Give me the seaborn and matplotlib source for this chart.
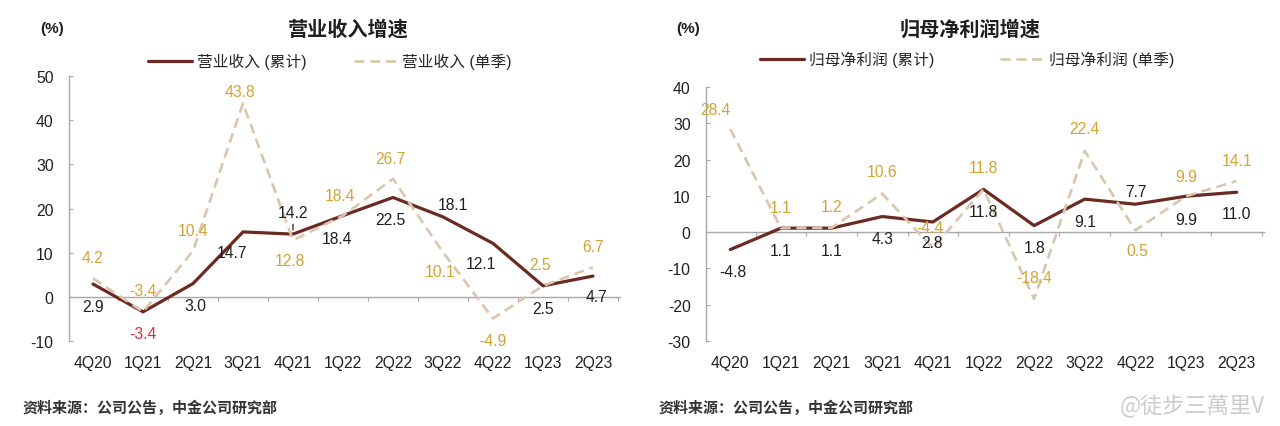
import matplotlib
matplotlib.use('Agg')
import matplotlib.pyplot as plt
import numpy as np
import pandas as pd
import seaborn as sns

# data
quarters = ['4Q20', '1Q21', '2Q21', '3Q21', '4Q21', '1Q22', '2Q22', '3Q22', '4Q22', '1Q23', '2Q23']

rev_cum = [2.9, -3.4, 3.0, 14.7, 14.2, 18.4, 22.5, 18.1, 12.1, 2.5, 4.7]
rev_q = [4.2, -3.4, 10.4, 43.8, 12.8, 18.4, 26.7, 10.1, -4.9, 2.5, 6.7]
np_cum = [-4.8, 1.1, 1.1, 4.3, 2.8, 11.8, 1.8, 9.1, 7.7, 9.9, 11.0]
np_q = [28.4, 1.1, 1.2, 10.6, -4.4, 11.8, -18.4, 22.4, 0.5, 9.9, 14.1]

# label offsets in pixels (dx, dy down positive)
rev_cum_off = [(0, 22), (0, 22), (2, 22), (-11, 21), (0, -22), (-6, 23), (-3, 22), (10, -12), (-12, 20), (0, 23), (4, 20)]
rev_q_off = [(-1, -21), (0, -21), (0, -20), (-3, -12), (-3, 20), (-3, -20), (-3, -20), (-3, 19), (0, 22), (-3, -21), (0, -21)]
np_cum_off = [(3, 22), (0, 22), (0, 22), (0, 22), (-1, 21), (0, 22), (0, 22), (0, 22), (1, -13), (0, 23), (0, 21)]
np_q_off = [(-15, -20), (0, -21), (0, -21), (0, -22), (-3, -21), (0, -22), (0, -21), (0, -22), (2, 20), (0, -20), (0, -20)]

BROWN = '#6B2A22'
BEIGE = '#D9C6AC'
GOLD = '#D4A232'
DARK = '#1F1F1F'
RED = '#E8283A'
GREY = '#A8A8A8'

sns.set_style('white')
plt.rcParams['font.family'] = ['Liberation Sans', 'Noto Sans CJK SC', 'DejaVu Sans']
plt.rcParams['axes.unicode_minus'] = False

fig = plt.figure(figsize=(12.8, 4.27), dpi=100)
ax1 = fig.add_axes([69/1280, 1-342/427, (620-69)/1280, (342-77)/427])
ax2 = fig.add_axes([706/1280, 1-342/427, (1264-706)/1280, (342-88)/427])

PX = 0.72  # points per pixel at 100 dpi
FS = 11.3


def draw_panel(ax, cum, q, name, ylim, yticks, cum_off, q_off, cum_colors, leader=None):
    df = pd.DataFrame({'quarter': quarters, 'cum': cum, 'q': q})
    sns.lineplot(data=df, x='quarter', y='cum', sort=False, ax=ax, color=BROWN,
                 linewidth=2.3, label=name + ' (累计)')
    sns.lineplot(data=df, x='quarter', y='q', sort=False, ax=ax, color=BEIGE,
                 linewidth=1.9, dashes=False, label=name + ' (单季)')
    ax.lines[1].set_dashes((3.8, 2.2))
    ax.set_xlim(-0.48, 10.54)
    ax.set_ylim(*ylim)
    ax.set_yticks(yticks)
    ax.set_xlabel('')
    ax.set_ylabel('')

    # spines / ticks
    for s in ['top', 'right', 'bottom']:
        ax.spines[s].set_visible(False)
    ax.spines['left'].set_color(GREY)
    ax.spines['left'].set_linewidth(1.0)
    ax.tick_params(axis='y', direction='in', length=3, color=GREY, pad=11,
                   labelsize=FS, labelcolor=DARK, left=True)
    ax.tick_params(axis='x', length=0, pad=10, labelsize=FS, labelcolor=DARK)

    zero = ax.secondary_xaxis(0, transform=ax.transData)
    zero.spines['bottom'].set_color(GREY)
    zero.spines['bottom'].set_linewidth(1.0)
    zero.set_xticks(np.arange(-0.5, 11, 1))
    zero.set_xticklabels([])
    zero.tick_params(axis='x', direction='out', length=3, color=GREY)

    # data labels
    for i in range(len(quarters)):
        dx, dy = cum_off[i]
        arrow = None
        if i == leader:
            arrow = dict(arrowstyle='-', color=DARK, lw=0.9, shrinkA=1, shrinkB=3)
        ax.annotate(f'{cum[i]:.1f}', (i, cum[i]), xytext=(dx*PX, -dy*PX),
                    textcoords='offset points', ha='center', va='center',
                    fontsize=FS, color=cum_colors[i], zorder=5, arrowprops=arrow)
        dx, dy = q_off[i]
        ax.annotate(f'{q[i]:.1f}', (i, q[i]), xytext=(dx*PX, -dy*PX),
                    textcoords='offset points', ha='center', va='center',
                    fontsize=FS, color=GOLD, zorder=5)


rev_cum_colors = [DARK]*len(quarters)
rev_cum_colors[1] = RED
draw_panel(ax1, rev_cum, rev_q, '营业收入', (-10, 50), range(-10, 51, 10),
           rev_cum_off, rev_q_off, rev_cum_colors, leader=4)
draw_panel(ax2, np_cum, np_q, '归母净利润', (-30, 40), range(-30, 41, 10),
           np_cum_off, np_q_off, [DARK]*len(quarters))

# legends
ax1.legend(loc='center', bbox_to_anchor=(330/1280, 1-62/427), bbox_transform=fig.transFigure,
           ncol=2, frameon=False, fontsize=11.3, handlelength=2.8, handletextpad=0.3,
           columnspacing=3.0)
ax2.legend(loc='center', bbox_to_anchor=(967/1280, 1-60/427), bbox_transform=fig.transFigure,
           ncol=2, frameon=False, fontsize=11.3, handlelength=2.8, handletextpad=0.3,
           columnspacing=4.2)

# titles and notes
fig.text(348/1280, 1-30/427, '营业收入增速', ha='center', va='center', fontsize=14.5,
         fontweight='bold', color=DARK)
fig.text(970/1280, 1-30/427, '归母净利润增速', ha='center', va='center', fontsize=14.5,
         fontweight='bold', color=DARK)
fig.text(52/1280, 1-29/427, '(%)', ha='center', va='center', fontsize=11,
         fontweight='bold', color=DARK)
fig.text(688/1280, 1-29/427, '(%)', ha='center', va='center', fontsize=11,
         fontweight='bold', color=DARK)
fig.text(22/1280, 1-408/427, '资料来源：公司公告，中金公司研究部', ha='left', va='center',
         fontsize=10.8, fontweight='bold', color='#333333')
fig.text(658/1280, 1-408/427, '资料来源：公司公告，中金公司研究部', ha='left', va='center',
         fontsize=10.8, fontweight='bold', color='#333333')
fig.text(1265/1280, 1-406/427, '@徒步三萬里V', ha='right', va='center', fontsize=16,
         color='#CCCCCC', family=['Noto Sans CJK TC', 'DejaVu Sans'])

fig.savefig('out.png', dpi=100)
